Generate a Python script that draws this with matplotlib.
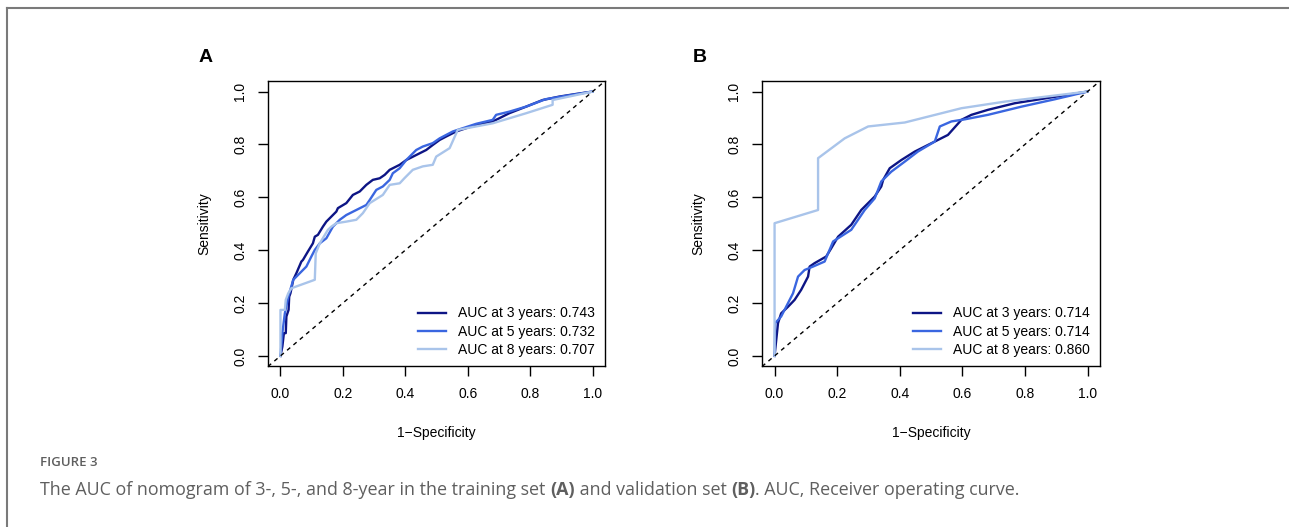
import matplotlib.pyplot as plt
from matplotlib.lines import Line2D

plt.rcParams['font.family'] = ['Liberation Sans', 'DejaVu Sans']

# training set (A)
a3_fpr = [0, .006, .011, .017, .019, .026, .028, .032, .041, .051, .067, .072, .088, .104, .110, .120,
          .136, .147, .163, .179, .184, .211, .232, .254, .275, .296, .318, .334, .350, .382, .403,
          .435, .467, .488, .510, .531, .563, .627, .680, .701, .733, .787, .840, .893, .947, 1]
a3_tpr = [0, .035, .086, .086, .149, .174, .224, .237, .288, .313, .357, .363, .395, .426, .451, .458,
          .489, .508, .527, .546, .559, .578, .609, .622, .647, .666, .672, .685, .704, .723, .741,
          .760, .779, .798, .817, .830, .849, .874, .887, .899, .918, .943, .968, .981, .991, 1]
a5_fpr = [0, .006, .014, .025, .041, .062, .083, .099, .110, .126, .147, .168, .190, .211, .243, .275,
          .286, .307, .328, .350, .360, .382, .403, .435, .456, .488, .510, .552, .627, .680, .691,
          .733, .787, .849, .915, 1]
a5_tpr = [0, .086, .161, .224, .288, .313, .338, .376, .401, .426, .445, .489, .515, .533, .552, .571,
          .590, .628, .641, .666, .691, .710, .741, .779, .792, .805, .823, .849, .878, .893, .912,
          .924, .943, .971, .984, 1]
a8_fpr = [0, 0, .014, .017, .025, .035, .110, .113, .126, .152, .163, .179, .211, .243, .264, .286,
          .328, .350, .382, .397, .424, .456, .488, .499, .542, .568, .680, .787, .872, .872, 1]
a8_tpr = [0, .174, .174, .212, .237, .256, .288, .388, .426, .477, .489, .502, .508, .515, .540, .578,
          .609, .647, .653, .672, .704, .717, .723, .754, .786, .855, .880, .918, .950, .968, 1]

# validation set (B)
b3_fpr = [0, .002, .011, .021, .043, .064, .085, .107, .112, .128, .165, .181, .203, .245, .277, .320,
          .341, .347, .368, .405, .448, .512, .554, .597, .629, .682, .768, .832, 1]
b3_tpr = [0, .023, .124, .161, .186, .212, .250, .300, .338, .351, .376, .407, .451, .496, .552, .603,
          .641, .666, .710, .741, .773, .811, .836, .893, .912, .931, .956, .968, 1]
b5_fpr = [0, .002, .021, .037, .059, .075, .096, .123, .160, .187, .203, .245, .288, .320, .341, .373,
          .416, .458, .512, .528, .565, .608, .682, .789, .896, 1]
b5_tpr = [0, .124, .149, .186, .237, .300, .325, .338, .357, .433, .445, .477, .552, .596, .660, .697,
          .735, .773, .811, .868, .887, .895, .912, .943, .971, 1]
b8_fpr = [0, 0, .139, .139, .224, .299, .416, .597, .736, 1]
b8_tpr = [0, .502, .552, .748, .823, .868, .883, .937, .962, 1]

labels_a = ['AUC at 3 years: 0.743', 'AUC at 5 years: 0.732', 'AUC at 8 years: 0.707']
labels_b = ['AUC at 3 years: 0.714', 'AUC at 5 years: 0.714', 'AUC at 8 years: 0.860']
colors = ['#0d1585', '#3a66e0', '#a9c4ea']
ticks = [0, 0.2, 0.4, 0.6, 0.8, 1.0]


def draw_panel(ax, curves, labels, letter):
    for (fpr, tpr), lab, col in zip(curves, labels, colors):
        ax.plot(fpr, tpr, color=col, lw=1.7, label=lab)
    ax.axline((0, 0), (1, 1), color='black', lw=1.0, ls=(0, (3, 3)))
    ax.set_xlim(-0.04, 1.04)
    ax.set_ylim(-0.04, 1.04)
    ax.set_xticks(ticks)
    ax.set_yticks(ticks)
    ax.set_xticklabels(['%.1f' % t for t in ticks])
    ax.set_yticklabels(['%.1f' % t for t in ticks], rotation=90, va='center')
    ax.tick_params(direction='out', length=7, width=1, labelsize=10, pad=8)
    for s in ax.spines.values():
        s.set_linewidth(1)
    ax.set_xlabel('1\u2212Specificity', fontsize=10, labelpad=18)
    ax.set_ylabel('Sensitivity', fontsize=10, labelpad=16)
    ax.legend(loc='lower right', frameon=False, fontsize=10, handlelength=2.0,
              handletextpad=0.9, labelspacing=0.3, borderaxespad=0.3)
    ax.text(-0.184, 1.084, letter, transform=ax.transAxes, fontsize=14,
            fontweight='bold', ha='center', va='center')


fig = plt.figure(figsize=(12.89, 5.27), dpi=100)
ax_a = fig.add_axes([0.2079, 0.3046, 0.2615, 0.5417])
ax_b = fig.add_axes([0.5912, 0.3046, 0.2622, 0.5417])

draw_panel(ax_a, [(a3_fpr, a3_tpr), (a5_fpr, a5_tpr), (a8_fpr, a8_tpr)], labels_a, 'A')
draw_panel(ax_b, [(b3_fpr, b3_tpr), (b5_fpr, b5_tpr), (b8_fpr, b8_tpr)], labels_b, 'B')

# page frame (top and left edges)
fig.add_artist(Line2D([6.5 / 1289, 1], [1 - 8 / 527, 1 - 8 / 527], transform=fig.transFigure,
                      color='#7a7a7a', lw=1.5))
fig.add_artist(Line2D([6.5 / 1289, 6.5 / 1289], [0, 1 - 8 / 527], transform=fig.transFigure,
                      color='#7a7a7a', lw=1.5))

# caption
grey = '#5f5f5f'
cap_font = ['Open Sans', 'DejaVu Sans']
fig.text(40 / 1289, 1 - 463 / 527, 'FIGURE 3', fontsize=9.5, color=grey,
         family=cap_font, fontweight='semibold', va='center')
pieces = [('The AUC of nomogram of 3-, 5-, and 8-year in the training set ', 'normal'),
          ('(A)', 'bold'),
          (' and validation set ', 'normal'),
          ('(B)', 'bold'),
          ('. AUC, Receiver operating curve.', 'normal')]
prev = fig.text(40 / 1289, 1 - 499 / 527, pieces[0][0], fontsize=12.9, color=grey,
                family=cap_font, fontweight=pieces[0][1], va='bottom')
for txt, wt in pieces[1:]:
    prev = ax_a.annotate(txt, xy=(1, 0), xycoords=prev, ha='left', va='bottom',
                         fontsize=12.9, color=grey, family=cap_font, fontweight=wt,
                         annotation_clip=False)

fig.savefig('out.png', dpi=100)
